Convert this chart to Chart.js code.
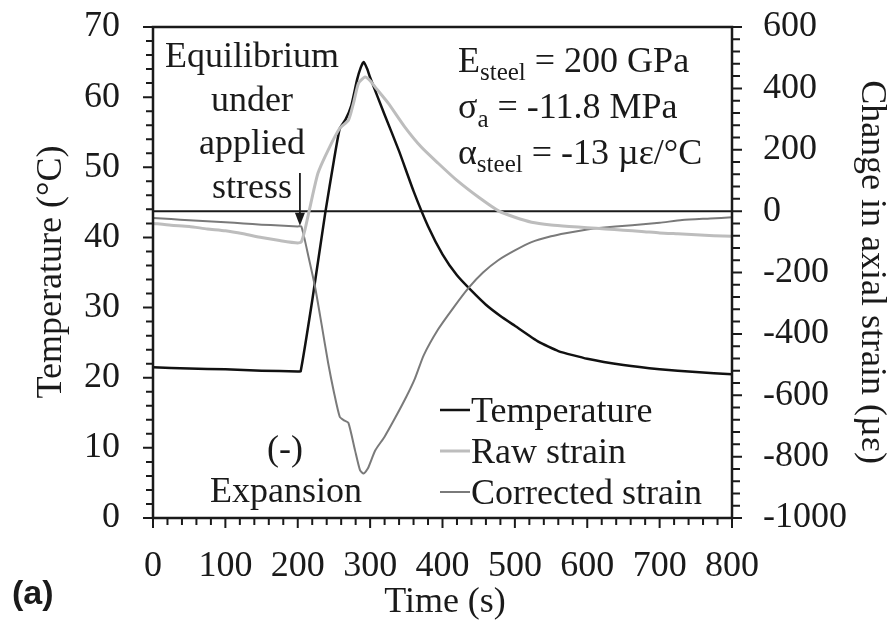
<!DOCTYPE html>
<html>
<head>
<meta charset="utf-8">
<script src="https://cdn.jsdelivr.net/npm/chart.js@4.4.0/dist/chart.umd.min.js"></script>
<style>
  html, body { margin: 0; padding: 0; background: #fff; }
</style>
</head>
<body>
<canvas id="chart" width="891" height="626"></canvas>
<script>
// --- Data ---

// Temperature (left axis, °C)
const tempTime = [0, 50, 100, 150, 200, 204, 220, 238, 250, 258, 266, 274, 282, 287, 291, 296, 300, 320, 340, 360, 380, 400, 420, 440, 460, 480, 500, 533, 560, 600, 650, 700, 750, 800];
const tempValues = [21.5, 21.3, 21.2, 21.0, 20.9, 20.9, 31.0, 43.5, 51.0, 55.5, 56.8, 58.8, 62.5, 64.2, 65.0, 64.0, 62.8, 57.5, 52.3, 46.6, 41.6, 37.6, 34.6, 32.4, 30.4, 28.8, 27.4, 25.1, 23.8, 22.7, 21.8, 21.2, 20.8, 20.5];

// Raw strain (right axis, µε)
const rawTime = [0, 25, 50, 75, 100, 125, 150, 175, 200, 205, 210, 217, 228, 242, 258, 270, 277, 284, 293, 300, 307, 325, 348, 371, 394, 420, 450, 478, 500, 523, 550, 575, 600, 625, 650, 675, 700, 725, 750, 775, 800];
const rawValues = [-40, -46, -50, -58, -64, -74, -86, -96, -104, -100, -60, 14, 124, 199, 270, 296, 352, 417, 437, 425, 404, 352, 274, 208, 156, 100, 45, 0, -20, -36, -45, -50, -54, -58, -62, -66, -71, -74, -77, -80, -82];

// Corrected strain (right axis, µε)
const corrTime = [0, 25, 50, 75, 100, 125, 150, 175, 200, 205, 215, 224, 233, 242, 250, 258, 264, 270, 279, 286, 291, 297, 307, 320, 335, 350, 362, 374, 394, 415, 436, 456, 477, 500, 523, 550, 570, 600, 616, 662, 700, 731, 770, 800];
const corrValues = [-22, -26, -30, -33, -36, -40, -44, -47, -50, -50, -150, -248, -370, -495, -590, -670, -682, -690, -778, -844, -855, -838, -780, -735, -672, -605, -545, -470, -385, -315, -250, -200, -160, -128, -101, -82, -72, -60, -55, -46, -38, -29, -24, -20];

// Zero strain reference line
const zeroTime = [0, 800];
const zeroValues = [0, 0];

// Tick labels
const timeTicks = [0, 100, 200, 300, 400, 500, 600, 700, 800];
const tempTicks = [0, 10, 20, 30, 40, 50, 60, 70];
const strainTicks = [-1000, -800, -600, -400, -200, 0, 200, 400, 600];

const SERIF = '"Liberation Serif", "Times New Roman", serif';
const TICK_FONT = { family: SERIF, size: 36 };
const INK = '#1a1a1a';

const COLORS = {
  temp: '#111111',
  raw: '#bdbdbd',
  corr: '#7a7a7a',
};

function pts(xs, ys) {
  return xs.map((x, i) => ({ x, y: ys[i] }));
}

// --- Text helper: runs of text with subscripts ---
function drawRuns(ctx, runs, x, baseline) {
  let cx = x;
  for (const r of runs) {
    ctx.font = `${r.size}px ${SERIF}`;
    ctx.fillText(r.t, cx, baseline + (r.dy || 0));
    cx += ctx.measureText(r.t).width;
  }
}

// --- Frame, minor/major ticks, annotations, legend, titles ---
const decorPlugin = {
  id: 'decor',
  afterDatasetsDraw(chart) {
    const { ctx, chartArea: a, scales } = chart;
    const xs = scales.x, yl = scales.y, yr = scales.y2;
    ctx.save();
    ctx.strokeStyle = INK;
    ctx.fillStyle = INK;

    // frame
    ctx.lineWidth = 2.5;
    ctx.strokeRect(a.left, a.top, a.right - a.left, a.bottom - a.top);

    // ticks
    ctx.lineWidth = 2;
    ctx.beginPath();
    for (let t = 0; t <= 800; t += 20) {
      const px = xs.getPixelForValue(t);
      const len = t % 100 === 0 ? 10 : 7;
      ctx.moveTo(px, a.bottom);
      ctx.lineTo(px, a.bottom + len);
    }
    for (let v = 0; v <= 70; v += 2) {
      const py = yl.getPixelForValue(v);
      const len = v % 10 === 0 ? 10 : 7;
      ctx.moveTo(a.left, py);
      ctx.lineTo(a.left - len, py);
    }
    for (let v = -1000; v <= 600; v += 40) {
      const py = yr.getPixelForValue(v);
      const len = v % 200 === 0 ? 10 : 8;
      ctx.moveTo(a.right, py);
      ctx.lineTo(a.right + len, py);
    }
    ctx.stroke();

    // "Equilibrium under applied stress" + arrow
    ctx.font = `36px ${SERIF}`;
    ctx.textAlign = 'center';
    ctx.textBaseline = 'alphabetic';
    ['Equilibrium', 'under', 'applied', 'stress'].forEach((s, i) => {
      ctx.fillText(s, 252, 67 + i * 43.5);
    });
    const ax = xs.getPixelForValue(203);
    const aTop = yr.getPixelForValue(124);
    const aTip = yr.getPixelForValue(-48);
    ctx.lineWidth = 1.8;
    ctx.beginPath();
    ctx.moveTo(ax, aTop);
    ctx.lineTo(ax, aTip - 8);
    ctx.stroke();
    ctx.beginPath();
    ctx.moveTo(ax, aTip);
    ctx.lineTo(ax - 5, aTip - 13);
    ctx.lineTo(ax + 5, aTip - 13);
    ctx.closePath();
    ctx.fill();

    // "(-) Expansion"
    ctx.fillText('(-)', 285, 460);
    ctx.fillText('Expansion', 286, 502);

    // material constants
    ctx.textAlign = 'left';
    drawRuns(ctx, [
      { t: 'E', size: 36 },
      { t: 'steel', size: 25, dy: 8 },
      { t: ' = 200 GPa', size: 36 },
    ], 458, 72);
    drawRuns(ctx, [
      { t: 'σ', size: 36 },
      { t: 'a', size: 25, dy: 9 },
      { t: ' = -11.8 MPa', size: 36 },
    ], 458, 118);
    drawRuns(ctx, [
      { t: 'α', size: 36 },
      { t: 'steel', size: 25, dy: 8 },
      { t: ' = -13 µε/°C', size: 36 },
    ], 458, 164);

    // legend
    const legend = [
      { label: 'Temperature', color: COLORS.temp, w: 2.5, y: 410 },
      { label: 'Raw strain', color: COLORS.raw, w: 3, y: 451 },
      { label: 'Corrected strain', color: COLORS.corr, w: 2, y: 492 },
    ];
    ctx.font = `36px ${SERIF}`;
    for (const l of legend) {
      ctx.strokeStyle = l.color;
      ctx.lineWidth = l.w;
      ctx.beginPath();
      ctx.moveTo(440, l.y);
      ctx.lineTo(470, l.y);
      ctx.stroke();
      ctx.fillStyle = INK;
      ctx.fillText(l.label, 471, l.y + 12);
    }

    // axis titles
    ctx.fillStyle = INK;
    ctx.textAlign = 'center';
    ctx.font = `36px ${SERIF}`;
    ctx.fillText('Time (s)', 445, 612);

    ctx.save();
    ctx.translate(61, 272);
    ctx.rotate(-Math.PI / 2);
    ctx.fillText('Temperature (°C)', 0, 0);
    ctx.restore();

    ctx.save();
    ctx.translate(862, 272);
    ctx.rotate(Math.PI / 2);
    ctx.fillText('Change in axial strain (µε)', 0, 0);
    ctx.restore();

    // panel label
    ctx.textAlign = 'left';
    ctx.font = `bold 34px "Liberation Sans", Arial, sans-serif`;
    ctx.fillText('(a)', 12, 604);

    ctx.restore();
  },
};

const tickCfg = (padding) => ({
  font: TICK_FONT,
  color: INK,
  padding,
  autoSkip: false,
  maxRotation: 0,
  callback: (v) => String(v),
});

new Chart(document.getElementById('chart'), {
  type: 'line',
  data: {
    datasets: [
      {
        label: 'Raw strain',
        data: pts(rawTime, rawValues),
        yAxisID: 'y2',
        borderColor: COLORS.raw,
        borderWidth: 3,
        pointRadius: 0,
        tension: 0.2,
      },
      {
        label: 'Corrected strain',
        data: pts(corrTime, corrValues),
        yAxisID: 'y2',
        borderColor: COLORS.corr,
        borderWidth: 2,
        pointRadius: 0,
        tension: 0.2,
      },
      {
        label: 'Temperature',
        data: pts(tempTime, tempValues),
        yAxisID: 'y',
        borderColor: COLORS.temp,
        borderWidth: 2.5,
        pointRadius: 0,
        tension: 0.15,
      },
      {
        label: 'zero',
        data: pts(zeroTime, zeroValues),
        yAxisID: 'y2',
        borderColor: INK,
        borderWidth: 2,
        pointRadius: 0,
      },
    ],
  },
  options: {
    responsive: false,
    animation: false,
    layout: { padding: { top: 0, left: 0, right: 0, bottom: 0 } },
    plugins: {
      legend: { display: false },
      tooltip: { enabled: false },
    },
    scales: {
      x: {
        type: 'linear',
        min: 0,
        max: 800,
        afterBuildTicks: (s) => { s.ticks = timeTicks.map((value) => ({ value })); },
        afterFit: (s) => { s.height = 108; },
        ticks: tickCfg(27),
        grid: { display: false, drawTicks: false },
        border: { display: false },
      },
      y: {
        position: 'left',
        min: 0,
        max: 70,
        afterBuildTicks: (s) => { s.ticks = tempTicks.map((value) => ({ value })); },
        afterFit: (s) => { s.width = 153; s.paddingTop = 27; },
        ticks: tickCfg(33),
        grid: { display: false, drawTicks: false },
        border: { display: false },
      },
      y2: {
        position: 'right',
        min: -1000,
        max: 600,
        afterBuildTicks: (s) => { s.ticks = strainTicks.map((value) => ({ value })); },
        afterFit: (s) => { s.width = 159; s.paddingTop = 27; },
        ticks: tickCfg(31),
        grid: { display: false, drawTicks: false },
        border: { display: false },
      },
    },
  },
  plugins: [decorPlugin],
});
</script>
</body>
</html>
